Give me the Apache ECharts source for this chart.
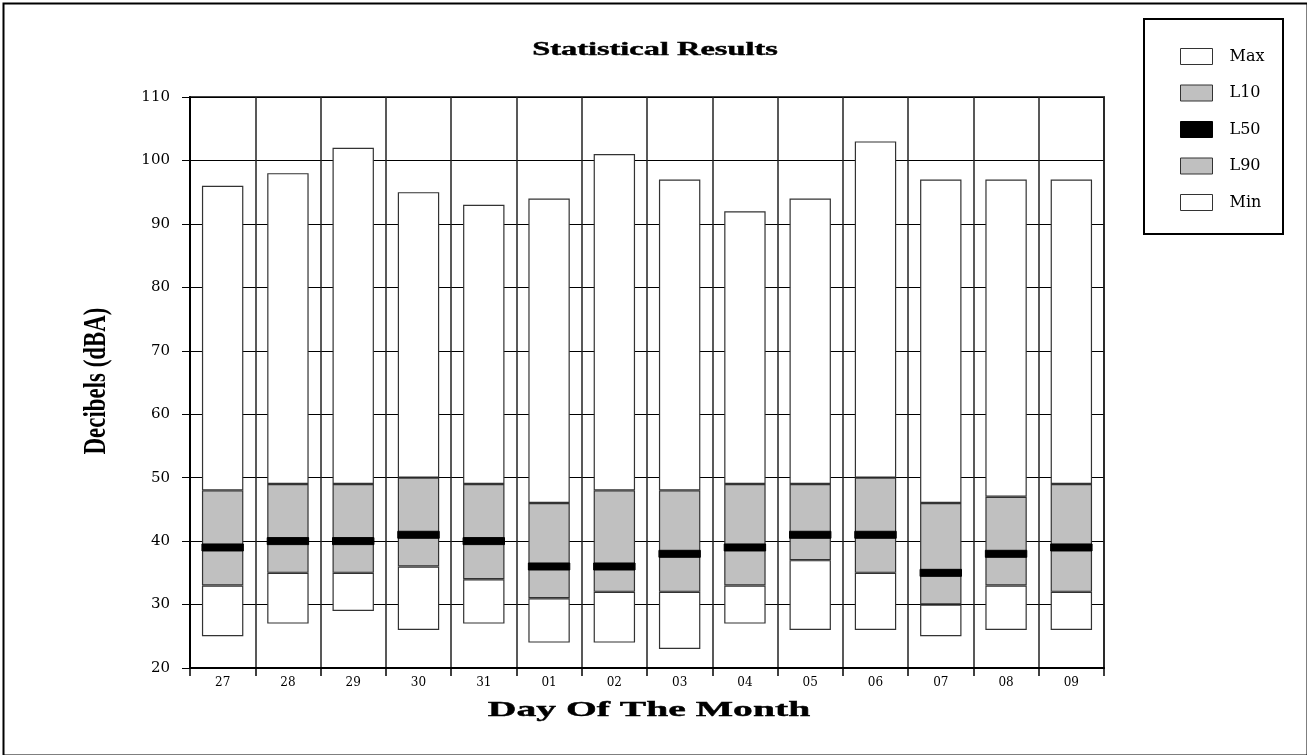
<!DOCTYPE html>
<html>
<head>
<meta charset="utf-8">
<script src="https://cdn.jsdelivr.net/npm/echarts@6/dist/echarts.min.js"></script>
<style>html,body{margin:0;padding:0;background:#fff;}#c{width:1307px;height:755px;}</style>
</head>
<body>
<div id="c"></div>
<script>
const categories = ['27','28','29','30','31','01','02','03','04','05','06','07','08','09'];
const maxV = [96, 98, 102, 95, 93, 94, 101, 97, 92, 94, 103, 97, 97, 97];
const l10  = [48, 49, 49, 50, 49, 46, 48, 48, 49, 49, 50, 46, 47, 49];
const l50  = [39, 40, 40, 41, 40, 36, 36, 38, 39, 41, 41, 35, 38, 39];
const l90  = [33, 35, 35, 36, 34, 31, 32, 32, 33, 37, 35, 30, 33, 32];
const minV = [25, 27, 29, 26, 27, 24, 24, 23, 27, 26, 26, 25, 26, 26];
const yTicks = {min: 20, max: 110, interval: 10};

const chart = echarts.init(document.getElementById('c'), null, {renderer: 'canvas'});
const BW = '63.4%';
const border = {borderColor: '#333', borderWidth: 1.2};

const diff = (a, b) => a.map((v, i) => v - b[i]);

const option = {
  backgroundColor: '#fff',
  animation: false,
  grid: {left: 190, right: 203, top: 97, bottom: 87, show: true, borderColor: '#444', borderWidth: 2, backgroundColor: 'transparent'},
  xAxis: {
    type: 'category', data: categories, boundaryGap: true,
    axisLine: {lineStyle: {color: '#000', width: 2}},
    axisTick: {show: true, length: 8, lineStyle: {color: '#000', width: 1.5}},
    splitLine: {show: true, lineStyle: {color: '#222', width: 1.5}},
    axisLabel: {fontFamily: 'DejaVu Serif', fontSize: 12, color: '#000', margin: 9}
  },
  yAxis: {
    type: 'value', min: yTicks.min, max: yTicks.max, interval: yTicks.interval,
    axisLine: {show: true, lineStyle: {color: '#000', width: 2}},
    axisTick: {show: true, length: 8, lineStyle: {color: '#000', width: 1}},
    splitLine: {show: true, lineStyle: {color: '#000', width: 1}},
    axisLabel: {fontFamily: 'DejaVu Serif', fontSize: 15, color: '#000', margin: 20}
  },
  legend: {
    orient: 'vertical', left: 1180, top: 48, padding: 0,
    itemWidth: 32, itemHeight: 16, itemGap: 19.5,
    selectedMode: false,
    textStyle: {fontFamily: 'DejaVu Serif', fontSize: 16, color: '#000', padding: [0, 0, 0, 12]},
    data: [
      {name: 'Max', icon: 'rect', itemStyle: {color: '#fff', borderColor: '#333', borderWidth: 1}},
      {name: 'L10', icon: 'rect', itemStyle: {color: '#c0c0c0', borderColor: '#333', borderWidth: 1}},
      {name: 'L50', icon: 'rect', itemStyle: {color: '#000', borderColor: '#000', borderWidth: 1}},
      {name: 'L90', icon: 'rect', itemStyle: {color: '#c0c0c0', borderColor: '#333', borderWidth: 1}},
      {name: 'Min', icon: 'rect', itemStyle: {color: '#fff', borderColor: '#333', borderWidth: 1}}
    ]
  },
  series: [
    {name: 'base', type: 'bar', stack: 's', barWidth: BW, data: minV, silent: true,
     itemStyle: {color: 'rgba(0,0,0,0)', borderWidth: 0}},
    {name: 'Min', type: 'bar', stack: 's', barWidth: BW, data: diff(l90, minV),
     itemStyle: Object.assign({color: '#fff'}, border)},
    {name: 'L90', type: 'bar', stack: 's', barWidth: BW, data: diff(l50, l90),
     itemStyle: Object.assign({color: '#c0c0c0'}, border)},
    {name: 'L10', type: 'bar', stack: 's', barWidth: BW, data: diff(l10, l50),
     itemStyle: Object.assign({color: '#c0c0c0'}, border)},
    {name: 'Max', type: 'bar', stack: 's', barWidth: BW, data: diff(maxV, l10),
     itemStyle: Object.assign({color: '#fff'}, border)},
    {name: 'L50', type: 'custom', z: 10, itemStyle: {color: '#000'},
     encode: {x: 0, y: 1},
     data: categories.map((c, i) => [i, l50[i]]),
     renderItem: function (params, api) {
       const p = api.coord([api.value(0), api.value(1)]);
       const w = api.size([1, 0])[0] * 0.634;
       return {type: 'rect', shape: {x: p[0] - w / 2, y: p[1] - 3.5, width: w, height: 7}, style: {fill: '#000', stroke: '#000', lineWidth: 1}};
     }}
  ],
  graphic: [
    {type: 'rect', left: 1, top: 1, shape: {width: 1304, height: 752}, style: {fill: 'none', stroke: '#000', lineWidth: 2}, silent: true, z: 100},
    {type: 'rect', shape: {x: 1144, y: 19, width: 139, height: 215}, style: {fill: 'none', stroke: '#000', lineWidth: 2}, silent: true, z: 100},
    {type: 'text', x: 655, y: 50, scaleX: 1.8, style: {text: 'Statistical Results', font: 'bold 18px "Liberation Serif"', fill: '#000', stroke: '#000', lineWidth: 0.4, textAlign: 'center', textVerticalAlign: 'middle'}, z: 100},
    {type: 'text', x: 649, y: 710, scaleX: 1.8, style: {text: 'Day Of The Month', font: 'bold 22px "Liberation Serif"', fill: '#000', stroke: '#000', lineWidth: 0.4, textAlign: 'center', textVerticalAlign: 'middle'}, z: 100},
    {type: 'text', x: 97, y: 381, rotation: Math.PI / 2, scaleX: 1.04, scaleY: 1.45, style: {text: 'Decibels (dBA)', font: 'bold 22px "Liberation Serif"', fill: '#000', textAlign: 'center', textVerticalAlign: 'middle'}, z: 100}
  ]
};
chart.setOption(option);
</script>
</body>
</html>
